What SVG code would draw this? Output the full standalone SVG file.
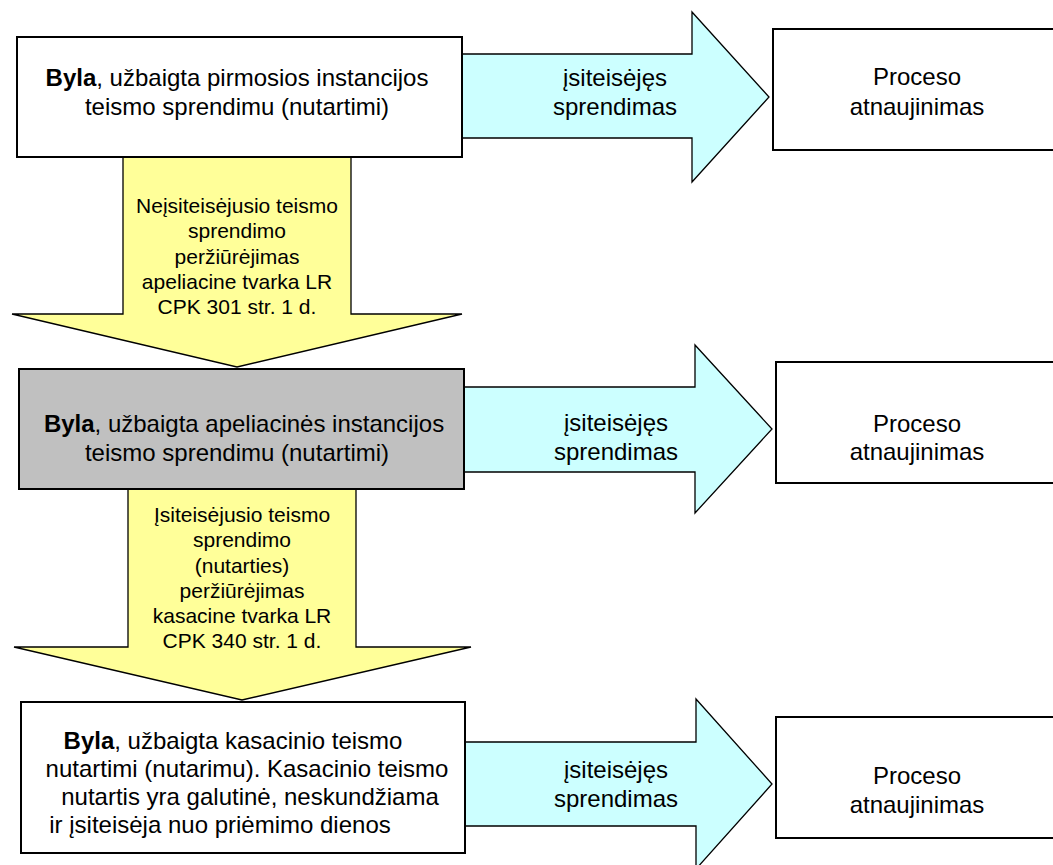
<svg xmlns="http://www.w3.org/2000/svg" width="1053" height="865" viewBox="0 0 1053 865">
<style>
text{font-family:"Liberation Sans",Arial,Helvetica,sans-serif;fill:#000;text-anchor:middle}
.t24{font-size:24px}
.t21{font-size:21px}
.box{fill:#fff;stroke:#000;stroke-width:2}
.gray{fill:#c0c0c0;stroke:#000;stroke-width:2}
.cyan{fill:#ccffff;stroke:#000;stroke-width:1.3;stroke-linejoin:miter}
.yel{fill:#ffff99;stroke:#000;stroke-width:1.3;stroke-linejoin:miter}
b,.b{font-weight:bold}
</style>
<rect width="1053" height="865" fill="#fff"/>
<g id="connectors">
  <path class="yel" d="M123,150 H351 V314 H462 L237,367 L12,314 H123 Z"/>
  <path class="yel" d="M128,480 H356 V647 H471 L242,700 L14,647 H128 Z"/>
  <path class="cyan" d="M455,54 H692 V12 L769,97 L692,182 V138 H455 Z"/>
  <path class="cyan" d="M455,387 H695 V345 L772,429 L695,513 V472 H455 Z"/>
  <path class="cyan" d="M455,742 H696 V699 L772,784 L696,869 V826 H455 Z"/>
  <g class="t21">
    <text x="237" y="213">Neįsiteisėjusio teismo</text>
    <text x="237" y="238">sprendimo</text>
    <text x="237" y="263.5">peržiūrėjimas</text>
    <text x="237" y="288.5">apeliacine tvarka LR</text>
    <text x="237" y="313.5">CPK 301 str. 1 d.</text>
    <text x="242" y="522">Įsiteisėjusio teismo</text>
    <text x="242" y="547">sprendimo</text>
    <text x="242" y="572.5">(nutarties)</text>
    <text x="242" y="597.5">peržiūrėjimas</text>
    <text x="242" y="622.5">kasacine tvarka LR</text>
    <text x="242" y="647.5">CPK 340 str. 1 d.</text>
  </g>
  <g class="t24">
    <text x="615" y="86">įsiteisėjęs</text>
    <text x="615" y="115">sprendimas</text>
    <text x="616" y="431">įsiteisėjęs</text>
    <text x="616" y="460">sprendimas</text>
    <text x="616" y="778">įsiteisėjęs</text>
    <text x="616" y="807">sprendimas</text>
  </g>
</g>
<g id="node-byla1">
  <rect class="box" x="17" y="37" width="445" height="120"/>
  <text class="t24" x="237" y="86"><tspan class="b">Byla</tspan>, užbaigta pirmosios instancijos</text>
  <text class="t24" x="237" y="115">teismo sprendimu (nutartimi)</text>
</g>
<g id="node-byla2">
  <rect class="gray" x="19" y="369" width="445" height="120"/>
  <text class="t24" x="244" y="432"><tspan class="b">Byla</tspan>, užbaigta apeliacinės instancijos</text>
  <text class="t24" x="237" y="461">teismo sprendimu (nutartimi)</text>
</g>
<g id="node-byla3">
  <rect class="box" x="21" y="702" width="444" height="151"/>
  <text class="t24" x="233" y="749"><tspan class="b">Byla</tspan>, užbaigta kasacinio teismo</text>
  <text class="t24" x="247" y="777">nutartimi (nutarimu). Kasacinio teismo</text>
  <text class="t24" x="250" y="805">nutartis yra galutinė, neskundžiama</text>
  <text class="t24" x="220" y="833">ir įsiteisėja nuo priėmimo dienos</text>
</g>
<g id="node-proceso1">
  <rect class="box" x="773" y="29" width="286" height="121"/>
  <text class="t24" x="917" y="85">Proceso</text>
  <text class="t24" x="917" y="115">atnaujinimas</text>
</g>
<g id="node-proceso2">
  <rect class="box" x="776" y="362" width="284" height="121"/>
  <text class="t24" x="917" y="432">Proceso</text>
  <text class="t24" x="917" y="460">atnaujinimas</text>
</g>
<g id="node-proceso3">
  <rect class="box" x="776" y="717" width="284" height="121"/>
  <text class="t24" x="917" y="784">Proceso</text>
  <text class="t24" x="917" y="813">atnaujinimas</text>
</g>
</svg>
